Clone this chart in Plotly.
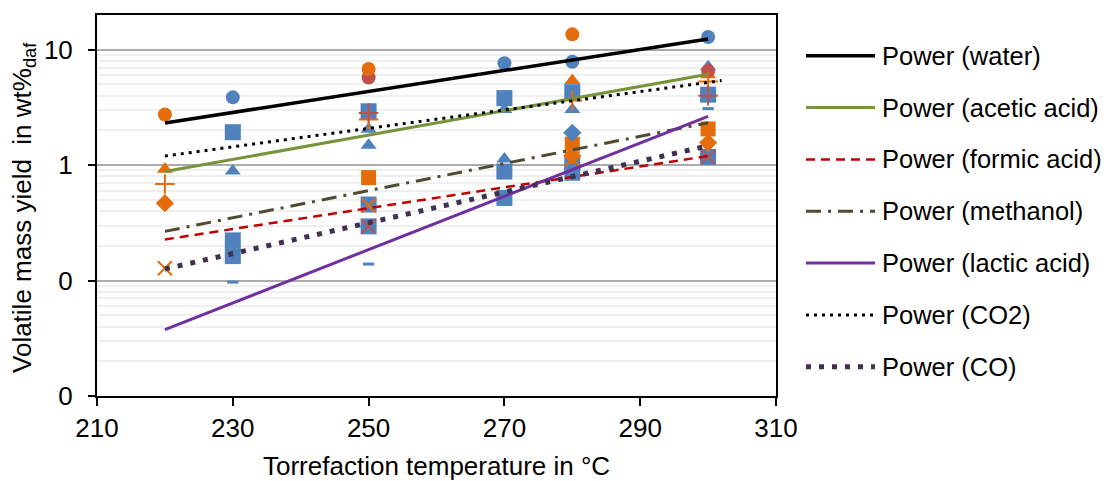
import math
import plotly.graph_objects as go

# ---- scatter data ----
circle_blue_x = [230, 270, 280, 300]
circle_blue_y = [3.87, 7.63, 7.88, 12.9]
circle_orange_x = [220, 250, 280]
circle_orange_y = [2.75, 6.82, 13.6]
circle_red_x = [250, 300]
circle_red_y = [5.74, 6.56]

tri_blue_x = [230, 250, 250, 270, 270, 280, 300]
tri_blue_y = [0.89, 2.05, 1.49, 3.03, 1.13, 3.03, 7.14]
tri_orange_x = [220, 280, 300]
tri_orange_y = [0.92, 5.41, 6.06]

plus_orange_x = [220, 250, 280, 300]
plus_orange_y = [0.686, 2.49, 3.64, 5.3]
plus_red_x = [250, 300]
plus_red_y = [2.83, 4.0]

sq_blue_x = [230, 230, 230, 250, 250, 250, 270, 270, 270, 280, 280, 280, 300, 300]
sq_blue_y = [1.93, 0.223, 0.163, 2.93, 0.456, 0.295, 3.81, 0.88, 0.52, 4.29, 1.06, 0.86, 4.08, 1.18]
sq_orange_x = [250, 280, 300]
sq_orange_y = [0.78, 1.52, 2.06]

dia_orange_x = [220, 280, 300]
dia_orange_y = [0.468, 1.2, 1.56]
dia_blue_x = [280]
dia_blue_y = [1.91]

x_orange_x = [220, 250, 280]
x_orange_y = [0.128, 0.447, 1.13]
x_red_x = [250, 300]
x_red_y = [0.295, 1.18]

dash_blue_x = [230, 250, 270, 300]
dash_blue_y = [0.097, 0.139, 0.47, 3.09]

# ---- power trend lines (end points) ----
trend_names = ["Power (water)", "Power (acetic acid)", "Power (formic acid)",
               "Power (methanol)", "Power (lactic acid)", "Power (CO2)", "Power (CO)"]
trend_x = [[220, 300], [220, 300], [220, 300], [220, 300], [220, 300], [220, 302], [220, 300]]
trend_y = [[2.32, 12.4], [0.88, 6.13], [0.227, 1.2], [0.267, 2.33],
           [0.0376, 2.65], [1.2, 5.41], [0.126, 1.47]]

BLUE = "#4F81BD"
ORANGE = "#E46C0A"
RED = "#C0504D"

trend_styles = [
    dict(color="#000000", width=3.5, dash="solid"),
    dict(color="#77933C", width=3, dash="solid"),
    dict(color="#C00000", width=2.5, dash="9px,6px"),
    dict(color="#4F4A30", width=3, dash="15px,7px,3px,7px"),
    dict(color="#7030A0", width=3, dash="solid"),
    dict(color="#000000", width=3, dash="3px,5px"),
    dict(color="#403152", width=5, dash="5px,8px"),
]

fig = go.Figure()


def add_markers(xs, ys, symbol, color, size, thin=False, lw=2):
    if thin:
        marker = dict(symbol=symbol, size=size, color=color, line=dict(color=color, width=lw))
    else:
        marker = dict(symbol=symbol, size=size, color=color, line=dict(width=0))
    fig.add_trace(go.Scatter(x=xs, y=ys, mode="markers", marker=marker, showlegend=False))


add_markers(sq_blue_x, sq_blue_y, "square", BLUE, 16)
add_markers(sq_orange_x, sq_orange_y, "square", ORANGE, 15)
add_markers(tri_blue_x, tri_blue_y, "triangle-up", BLUE, 14)
add_markers(tri_orange_x, tri_orange_y, "triangle-up", ORANGE, 14)
add_markers(dia_blue_x, dia_blue_y, "diamond", BLUE, 14)
add_markers(dia_orange_x, dia_orange_y, "diamond", ORANGE, 14)
add_markers(circle_blue_x, circle_blue_y, "circle", BLUE, 14)
add_markers(circle_red_x, circle_red_y, "circle", RED, 14)
add_markers(circle_orange_x, circle_orange_y, "circle", ORANGE, 14)
add_markers(plus_orange_x, plus_orange_y, "cross-thin", ORANGE, 14, thin=True)
add_markers(plus_red_x, plus_red_y, "cross-thin", RED, 14, thin=True)
add_markers(x_orange_x, x_orange_y, "x-thin", ORANGE, 14, thin=True)
add_markers(x_red_x, x_red_y, "x-thin", RED, 14, thin=True)
add_markers(dash_blue_x, dash_blue_y, "line-ew", BLUE, 8, thin=True, lw=3)

for name, xs, ys, st in zip(trend_names, trend_x, trend_y, trend_styles):
    fig.add_trace(go.Scatter(x=xs, y=ys, mode="lines", name=name, line=st, showlegend=False))

# the page body has an 8 px margin, so everything is laid out 8 px up/left
OFF = 8
FW, FH = 1111 - OFF, 481 - OFF
L, R, T, B = 97 - OFF, 776 - OFF, 13 - OFF, 396 - OFF
W, H = R - L, B - T

# hand drawn legend (long line samples like the original)
shapes = []
annotations = []
for i, (name, st) in enumerate(zip(trend_names, trend_styles)):
    py = 54 + i * 52.1 - OFF
    yp = (B - py) / H
    shapes.append(dict(type="line", xref="paper", yref="paper",
                       x0=(806 - OFF - L) / W, x1=(875 - OFF - L) / W, y0=yp, y1=yp,
                       line=dict(color=st["color"], width=st["width"], dash=st["dash"])))
    annotations.append(dict(xref="paper", yref="paper", x=(880 - OFF - L) / W, y=yp,
                            xanchor="left", yanchor="middle", showarrow=False,
                            text=name, font=dict(size=25.5, color="#000000")))

annotations.append(dict(xref="paper", yref="paper", x=0.5, y=(B - (466 - OFF)) / H,
                        xanchor="center", yanchor="middle", showarrow=False,
                        text="Torrefaction temperature in °C", font=dict(size=26, color="#000000")))
annotations.append(dict(xref="paper", yref="paper", x=(24 - OFF - L) / W, y=(B - (207 - OFF)) / H,
                        xanchor="center", yanchor="middle", showarrow=False, textangle=-90,
                        text="Volatile mass yield  in wt%<sub>daf</sub>",
                        font=dict(size=26, color="#000000")))

minor_vals = [m * 10 ** k for k in (-2, -1, 0, 1) for m in range(2, 10)]

fig.update_layout(
    width=FW,
    height=FH,
    margin=dict(l=L, r=FW - R, t=T, b=FH - B),
    paper_bgcolor="white",
    plot_bgcolor="white",
    font=dict(family="Liberation Sans, Arial, sans-serif", size=26, color="#000000"),
    shapes=shapes,
    annotations=annotations,
    xaxis=dict(
        range=[210, 310], tick0=210, dtick=20, showgrid=False, zeroline=False,
        showline=True, linecolor="#000000", linewidth=2, mirror=True,
        ticks="outside", ticklen=8, tickwidth=2, tickcolor="#000000",
    ),
    yaxis=dict(
        type="log", range=[-2, math.log10(20)],
        tickvals=[0.01, 0.1, 1, 10], ticktext=["0", "0", "1", "10"],
        showgrid=True, gridcolor="#ABABAB", gridwidth=1.5, zeroline=False,
        showline=True, linecolor="#000000", linewidth=2, mirror=True,
        ticks="outside", ticklen=7, tickwidth=2, tickcolor="#000000",
        ticklabelstandoff=10,
        minor=dict(tickvals=minor_vals, showgrid=True, gridcolor="#EFEFEF", gridwidth=2, ticks=""),
    ),
)

fig.write_html("out.html")
